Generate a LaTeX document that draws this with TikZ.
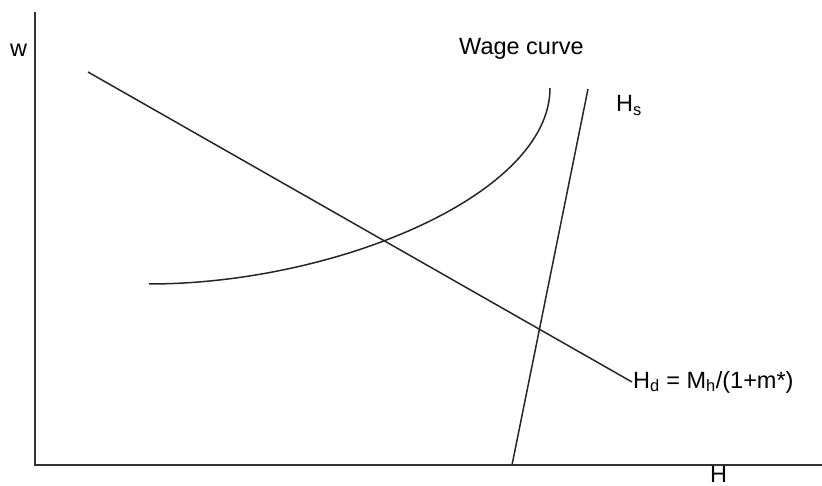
\documentclass[tikz,border=0pt]{standalone}
\usepackage{fontspec}
\setmainfont{Liberation Sans}
\begin{document}
\begin{tikzpicture}[x=1pt,y=-1pt,
  curve/.style={line width=1.5pt,black!85},
  axis/.style={line width=1.9pt,black!80},
  lbl/.style={font=\fontsize{23.5}{28}\selectfont,inner sep=0pt,text=black}]
\useasboundingbox (0,0) rectangle (822,486);
\coordinate (ytop) at (35,12);
\coordinate (orig) at (35,465);
\coordinate (xend) at (822,465);
\draw[axis] (ytop) -- (orig) -- (xend);
% Hd line
\coordinate (hd1) at (88,72);
\coordinate (hd2) at (632,382);
\draw[curve] (hd1) -- (hd2);
% Hs line
\coordinate (hs1) at (512,465);
\coordinate (hs2) at (588,89);
\draw[curve] (hs1) -- (hs2);
% wage curve
\coordinate (wc1) at (149,284);
\coordinate (wc2) at (550,88);
\draw[curve] (wc1) .. controls (335,284) and (550,195) .. (wc2);
% labels
\node[lbl,anchor=base west] (w) at (10,57) {w};
\node[lbl,anchor=base west] (wage) at (459,55) {Wage curve};
\node[lbl,anchor=base west] (hs) at (616,112) {H\textsubscript{s}};
\node[lbl,anchor=base west] (hd) at (633,388) {H\textsubscript{d} = M\textsubscript{h}/(1+m*)};
\node[lbl,anchor=base west] (h) at (710,482) {H};
\end{tikzpicture}
\end{document}
